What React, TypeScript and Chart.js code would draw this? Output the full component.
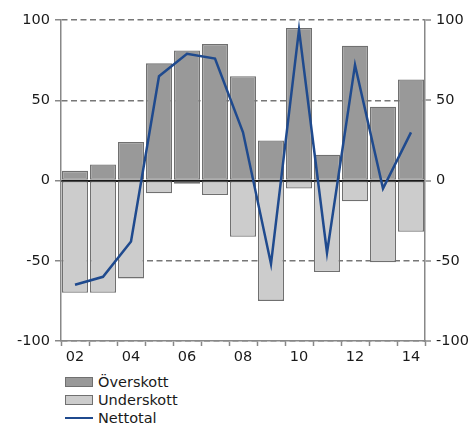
import React, { useEffect, useRef } from 'react';
import { Chart, registerables } from 'chart.js';

Chart.register(...registerables);

const years = ['02', '03', '04', '05', '06', '07', '08', '09', '10', '11', '12', '13', '14'];
const overskott = [6, 10, 24, 73, 81, 85, 65, 25, 95, 16, 84, 46, 63];
const underskott = [-70, -70, -61, -8, -2, -9, -35, -75, -5, -57, -13, -51, -32];
const nettotal = [-65, -60, -38, 65, 79, 76, 30, -52, 94, -45, 72, -5, 30];
const yMin = -100;
const yMax = 100;
const yStep = 50;

const FONT = 'DejaVu Sans';
const TEXT = '#1a1a1a';
const AXIS = '#888888';
const OVER_FILL = '#999999';
const UNDER_FILL = '#cccccc';
const BAR_BORDER = '#707070';
const LINE = '#1f4a8e';

export default function App() {
  const ref = useRef<HTMLCanvasElement | null>(null);

  useEffect(() => {
    if (!ref.current) return;
    const font = { family: FONT, size: 14.5 };
    const chart = new Chart(ref.current, {
      type: 'bar',
      data: {
        labels: years,
        datasets: [
          {
            type: 'line',
            label: 'Nettotal',
            data: nettotal,
            borderColor: LINE,
            backgroundColor: LINE,
            borderWidth: 2.5,
            pointRadius: 0,
            tension: 0,
            yAxisID: 'y',
            order: 0,
          },
          {
            label: 'Överskott',
            data: overskott,
            backgroundColor: OVER_FILL,
            borderColor: BAR_BORDER,
            borderWidth: 1.3,
            borderSkipped: false,
            categoryPercentage: 1,
            barPercentage: 0.93,
            yAxisID: 'y',
            order: 1,
          },
          {
            label: 'Underskott',
            data: underskott,
            backgroundColor: UNDER_FILL,
            borderColor: BAR_BORDER,
            borderWidth: 1.3,
            borderSkipped: false,
            categoryPercentage: 1,
            barPercentage: 0.93,
            yAxisID: 'y',
            order: 2,
          },
        ] as any,
      },
      options: {
        animation: false,
        responsive: true,
        maintainAspectRatio: false,
        layout: { padding: { top: 20, left: 0, right: 0, bottom: 0 } },
        plugins: { legend: { display: false }, tooltip: { enabled: false } },
        scales: {
          x: {
            stacked: true,
            offset: true,
            grid: {
              offset: true,
              drawOnChartArea: false,
              drawTicks: true,
              tickLength: 5,
              tickColor: AXIS,
              tickWidth: 1.5,
            },
            border: { display: true, color: AXIS, width: 1.5 },
            ticks: {
              font,
              color: TEXT,
              padding: 3,
              autoSkip: false,
              maxRotation: 0,
              callback: (_v: any, i: number) => (i % 2 === 0 ? years[i] : ''),
            },
            afterFit: (s: any) => {
              s.height = 29;
            },
          },
          y: {
            position: 'left',
            stacked: false,
            min: yMin,
            max: yMax,
            ticks: { stepSize: yStep, font, color: TEXT, padding: 5 },
            grid: {
              color: (c: any) => (c.tick && c.tick.value === 0 ? 'rgba(0,0,0,0)' : '#777777'),
              lineWidth: 1.5,
              tickLength: 6,
              tickColor: AXIS,
              tickWidth: 1.5,
              tickBorderDash: [],
            },
            border: { display: true, color: AXIS, width: 1.5, dash: [6, 3.5] },
            afterFit: (s: any) => {
              s.width = 61;
            },
          },
          y2: {
            position: 'right',
            min: yMin,
            max: yMax,
            z: 1,
            ticks: { stepSize: yStep, font, color: TEXT, padding: 5 },
            grid: {
              drawOnChartArea: true,
              color: (c: any) => (c.tick && c.tick.value === 0 ? '#1a1a1a' : 'rgba(0,0,0,0)'),
              lineWidth: 2,
              tickLength: 6,
              tickColor: AXIS,
              tickWidth: 1.5,
            },
            border: { display: true, color: AXIS, width: 1.5 },
            afterFit: (s: any) => {
              s.width = 46;
            },
          },
        },
      } as any,
    });
    return () => chart.destroy();
  }, []);

  const legendItems = [
    { label: 'Överskott', kind: 'bar', fill: OVER_FILL },
    { label: 'Underskott', kind: 'bar', fill: UNDER_FILL },
    { label: 'Nettotal', kind: 'line', fill: LINE },
  ];

  return (
    <div style={{ position: 'fixed', left: 0, top: 0, width: 471, height: 426, background: '#fff', overflow: 'hidden' }}>
      <div style={{ position: 'absolute', left: 0, top: 0, width: 471, height: 370 }}>
        <canvas ref={ref} />
      </div>
      <div style={{ position: 'absolute', left: 65, top: 373, fontFamily: FONT, fontSize: 14.5, color: TEXT }}>
        {legendItems.map((it) => (
          <div key={it.label} style={{ display: 'flex', alignItems: 'center', height: 18, lineHeight: '18px' }}>
            {it.kind === 'bar' ? (
              <span style={{ display: 'inline-block', width: 26, height: 8, background: it.fill, border: `1px solid ${BAR_BORDER}`, marginRight: 5 }} />
            ) : (
              <span style={{ display: 'inline-block', width: 28, height: 2.5, background: it.fill, marginRight: 5 }} />
            )}
            <span>{it.label}</span>
          </div>
        ))}
      </div>
    </div>
  );
}
